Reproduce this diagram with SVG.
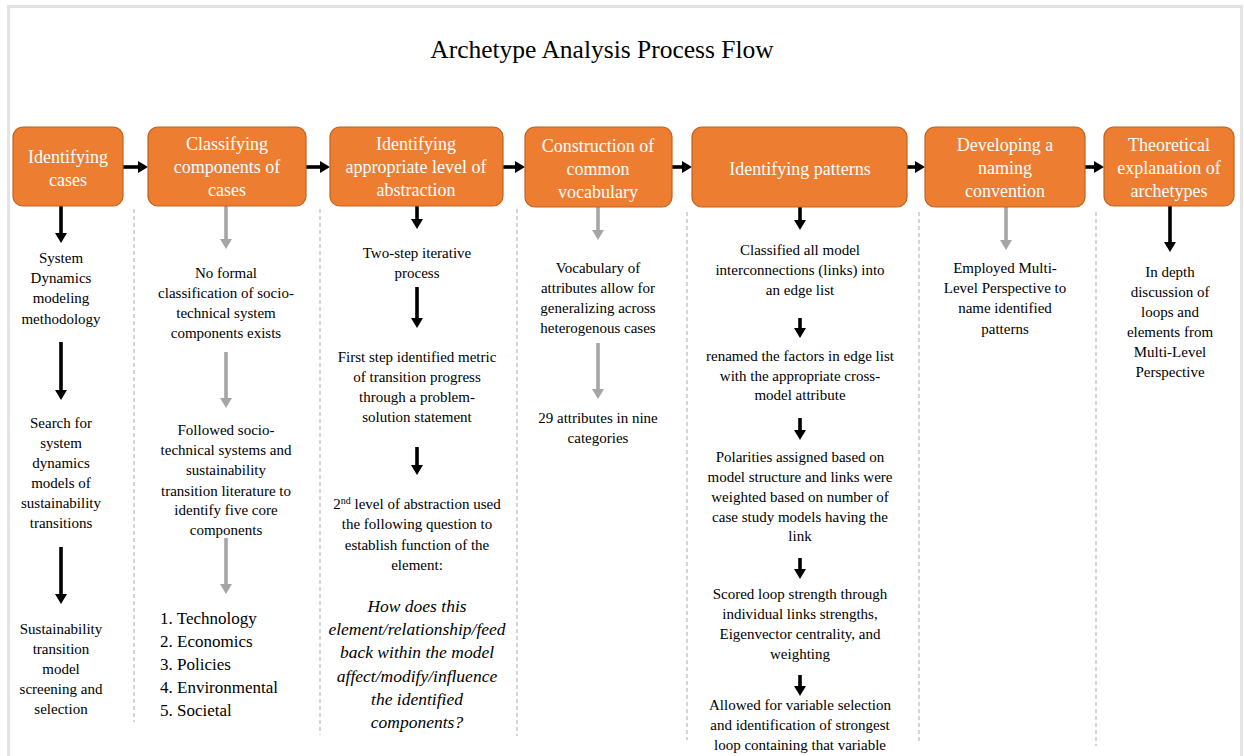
<svg xmlns="http://www.w3.org/2000/svg" width="1244" height="756" viewBox="0 0 1244 756">
<style>
text{font-family:'Liberation Serif','Times New Roman',Tinos,'DejaVu Serif','Noto Serif',serif}
.box{fill:#ED7D31;stroke:#C0621F;stroke-width:1.2}
.bt{font-size:18px;fill:#ffffff;text-anchor:middle}
.t{font-size:15px;fill:#000000;text-anchor:middle}
.q{font-size:17.5px;font-style:italic;fill:#000000;text-anchor:middle}
.li{font-size:17px;fill:#000000}
.title{font-size:25.5px;fill:#000000;text-anchor:middle}
.ab{stroke:#000000;stroke-width:3.6;fill:none;marker-end:url(#hb)}
.ag{stroke:#A6A6A6;stroke-width:3.6;fill:none;marker-end:url(#hg)}
.sep{stroke:#ABABAB;stroke-width:1;stroke-dasharray:4 3;fill:none}
</style>
<defs>
<marker id="hb" viewBox="0 0 10 12" refX="0.5" refY="6" markerWidth="10" markerHeight="12" markerUnits="userSpaceOnUse" orient="auto"><path d="M0,0 L10,6 L0,12 z" fill="#000000"/></marker>
<marker id="hg" viewBox="0 0 10 12" refX="0.5" refY="6" markerWidth="10" markerHeight="12" markerUnits="userSpaceOnUse" orient="auto"><path d="M0,0 L10,6 L0,12 z" fill="#A6A6A6"/></marker>
</defs>
<rect x="0" y="0" width="1244" height="756" fill="#ffffff"/>
<rect x="8.5" y="6.5" width="1233" height="760" fill="#ffffff" stroke="#E3E3E3" stroke-width="3"/>
<text class="title" x="602" y="58">Archetype Analysis Process Flow</text>

<g id="separators">
<line class="sep" x1="134" y1="209" x2="134" y2="722"/>
<line class="sep" x1="320" y1="209" x2="320" y2="735"/>
<line class="sep" x1="517" y1="209" x2="517" y2="736"/>
<line class="sep" x1="687" y1="212" x2="687" y2="740"/>
<line class="sep" x1="919" y1="212" x2="919" y2="743"/>
<line class="sep" x1="1096" y1="212" x2="1096" y2="746"/>
</g>

<g id="connectors">
<line class="ab" x1="123" y1="167" x2="138.5" y2="167"/>
<line class="ab" x1="306" y1="167" x2="320.5" y2="167"/>
<line class="ab" x1="503" y1="167" x2="515.5" y2="167"/>
<line class="ab" x1="672" y1="167" x2="682.5" y2="167"/>
<line class="ab" x1="907" y1="167" x2="915.5" y2="167"/>
<line class="ab" x1="1085" y1="167" x2="1094.5" y2="167"/>

<line class="ab" x1="61" y1="206" x2="61" y2="233.5"/>
<line class="ab" x1="61" y1="342" x2="61" y2="390.5"/>
<line class="ab" x1="61" y1="547" x2="61" y2="594.5"/>

<line class="ag" x1="226" y1="206" x2="226" y2="239.5"/>
<line class="ag" x1="226" y1="352" x2="226" y2="398.5"/>
<line class="ag" x1="226" y1="538" x2="226" y2="584.5"/>

<line class="ab" x1="417" y1="206" x2="417" y2="219.5"/>
<line class="ab" x1="417" y1="287" x2="417" y2="318.5"/>
<line class="ab" x1="417" y1="447" x2="417" y2="465.5"/>

<line class="ag" x1="598" y1="207" x2="598" y2="230.5"/>
<line class="ag" x1="598" y1="343" x2="598" y2="389.5"/>

<line class="ab" x1="800" y1="207" x2="800" y2="220.5"/>
<line class="ab" x1="800" y1="318" x2="800" y2="328.5"/>
<line class="ab" x1="800" y1="418" x2="800" y2="430.5"/>
<line class="ab" x1="800" y1="558" x2="800" y2="569.5"/>
<line class="ab" x1="800" y1="675" x2="800" y2="686.5"/>

<line class="ag" x1="1006" y1="207" x2="1006" y2="240.5"/>
<line class="ab" x1="1170" y1="206" x2="1170" y2="242.5"/>
</g>

<g id="box1"><rect class="box" x="13" y="127" width="110" height="79" rx="10"/>
<text class="bt" x="68"><tspan x="68" y="163">Identifying</tspan><tspan x="68" y="186">cases</tspan></text></g>
<g id="box2"><rect class="box" x="148" y="127" width="158" height="79" rx="10"/>
<text class="bt"><tspan x="227" y="150">Classifying</tspan><tspan x="227" y="173">components of</tspan><tspan x="227" y="196">cases</tspan></text></g>
<g id="box3"><rect class="box" x="330" y="127" width="173" height="79" rx="10"/>
<text class="bt"><tspan x="416" y="150">Identifying</tspan><tspan x="416" y="173">appropriate level of</tspan><tspan x="416" y="196">abstraction</tspan></text></g>
<g id="box4"><rect class="box" x="525" y="127" width="147" height="80" rx="10"/>
<text class="bt"><tspan x="598" y="152">Construction of</tspan><tspan x="598" y="175">common</tspan><tspan x="598" y="198">vocabulary</tspan></text></g>
<g id="box5"><rect class="box" x="692" y="127" width="215" height="80" rx="10"/>
<text class="bt" x="800" y="175">Identifying patterns</text></g>
<g id="box6"><rect class="box" x="925" y="127" width="160" height="80" rx="10"/>
<text class="bt"><tspan x="1005" y="151">Developing a</tspan><tspan x="1005" y="174">naming</tspan><tspan x="1005" y="197">convention</tspan></text></g>
<g id="box7"><rect class="box" x="1104" y="127" width="130" height="79" rx="10"/>
<text class="bt"><tspan x="1169" y="151">Theoretical</tspan><tspan x="1169" y="174">explanation of</tspan><tspan x="1169" y="197">archetypes</tspan></text></g>

<g id="col1-1"><text class="t"><tspan x="61" y="263">System</tspan><tspan x="61" y="283">Dynamics</tspan><tspan x="61" y="303">modeling</tspan><tspan x="61" y="324">methodology</tspan></text></g>
<g id="col1-2"><text class="t"><tspan x="61" y="428">Search for</tspan><tspan x="61" y="448">system</tspan><tspan x="61" y="468">dynamics</tspan><tspan x="61" y="488">models of</tspan><tspan x="61" y="508">sustainability</tspan><tspan x="61" y="528">transitions</tspan></text></g>
<g id="col1-3"><text class="t"><tspan x="61" y="634">Sustainability</tspan><tspan x="61" y="654">transition</tspan><tspan x="61" y="674">model</tspan><tspan x="61" y="694">screening and</tspan><tspan x="61" y="714">selection</tspan></text></g>

<g id="col2-1"><text class="t"><tspan x="226" y="278">No formal</tspan><tspan x="226" y="298">classification of socio-</tspan><tspan x="226" y="318">technical system</tspan><tspan x="226" y="338">components exists</tspan></text></g>
<g id="col2-2"><text class="t"><tspan x="226" y="435">Followed socio-</tspan><tspan x="226" y="455">technical systems and</tspan><tspan x="226" y="475">sustainability</tspan><tspan x="226" y="496">transition literature to</tspan><tspan x="226" y="515">identify five core</tspan><tspan x="226" y="535">components</tspan></text></g>
<g id="col2-3"><text class="li"><tspan x="160" y="624">1. Technology</tspan><tspan x="160" y="647">2. Economics</tspan><tspan x="160" y="670">3. Policies</tspan><tspan x="160" y="693">4. Environmental</tspan><tspan x="160" y="716">5. Societal</tspan></text></g>

<g id="col3-1"><text class="t"><tspan x="417" y="258">Two-step iterative</tspan><tspan x="417" y="278">process</tspan></text></g>
<g id="col3-2"><text class="t"><tspan x="417" y="362">First step identified metric</tspan><tspan x="417" y="382">of transition progress</tspan><tspan x="417" y="402">through a problem-</tspan><tspan x="417" y="422">solution statement</tspan></text></g>
<g id="col3-3"><text class="t"><tspan x="417" y="509">2<tspan font-size="10" dy="-5">nd</tspan><tspan dy="5"> level of abstraction used</tspan></tspan><tspan x="417" y="529">the following question to</tspan><tspan x="417" y="550">establish function of the</tspan><tspan x="417" y="570">element:</tspan></text></g>
<g id="col3-4"><text class="q"><tspan x="417" y="612">How does this</tspan><tspan x="417" y="635">element/relationship/feed</tspan><tspan x="417" y="658">back within the model</tspan><tspan x="417" y="682">affect/modify/influence</tspan><tspan x="417" y="705">the identified</tspan><tspan x="417" y="728">components?</tspan></text></g>

<g id="col4-1"><text class="t"><tspan x="598" y="273">Vocabulary of</tspan><tspan x="598" y="293">attributes allow for</tspan><tspan x="598" y="313">generalizing across</tspan><tspan x="598" y="333">heterogenous cases</tspan></text></g>
<g id="col4-2"><text class="t"><tspan x="598" y="423">29 attributes in nine</tspan><tspan x="598" y="443">categories</tspan></text></g>

<g id="col5-1"><text class="t"><tspan x="800" y="255">Classified all model</tspan><tspan x="800" y="275">interconnections (links) into</tspan><tspan x="800" y="295">an edge list</tspan></text></g>
<g id="col5-2"><text class="t"><tspan x="800" y="361">renamed the factors in edge list</tspan><tspan x="800" y="381">with the appropriate cross-</tspan><tspan x="800" y="400">model attribute</tspan></text></g>
<g id="col5-3"><text class="t"><tspan x="800" y="462">Polarities assigned based on</tspan><tspan x="800" y="482">model structure and links were</tspan><tspan x="800" y="502">weighted based on number of</tspan><tspan x="800" y="522">case study models having the</tspan><tspan x="800" y="541">link</tspan></text></g>
<g id="col5-4"><text class="t"><tspan x="800" y="599">Scored loop strength through</tspan><tspan x="800" y="619">individual links strengths,</tspan><tspan x="800" y="639">Eigenvector centrality, and</tspan><tspan x="800" y="659">weighting</tspan></text></g>
<g id="col5-5"><text class="t"><tspan x="800" y="710">Allowed for variable selection</tspan><tspan x="800" y="730">and identification of strongest</tspan><tspan x="800" y="750">loop containing that variable</tspan></text></g>

<g id="col6-1"><text class="t"><tspan x="1005" y="273">Employed Multi-</tspan><tspan x="1005" y="293">Level Perspective to</tspan><tspan x="1005" y="313">name identified</tspan><tspan x="1005" y="334">patterns</tspan></text></g>

<g id="col7-1"><text class="t"><tspan x="1170" y="277">In depth</tspan><tspan x="1170" y="297">discussion of</tspan><tspan x="1170" y="317">loops and</tspan><tspan x="1170" y="337">elements from</tspan><tspan x="1170" y="357">Multi-Level</tspan><tspan x="1170" y="377">Perspective</tspan></text></g>
</svg>
